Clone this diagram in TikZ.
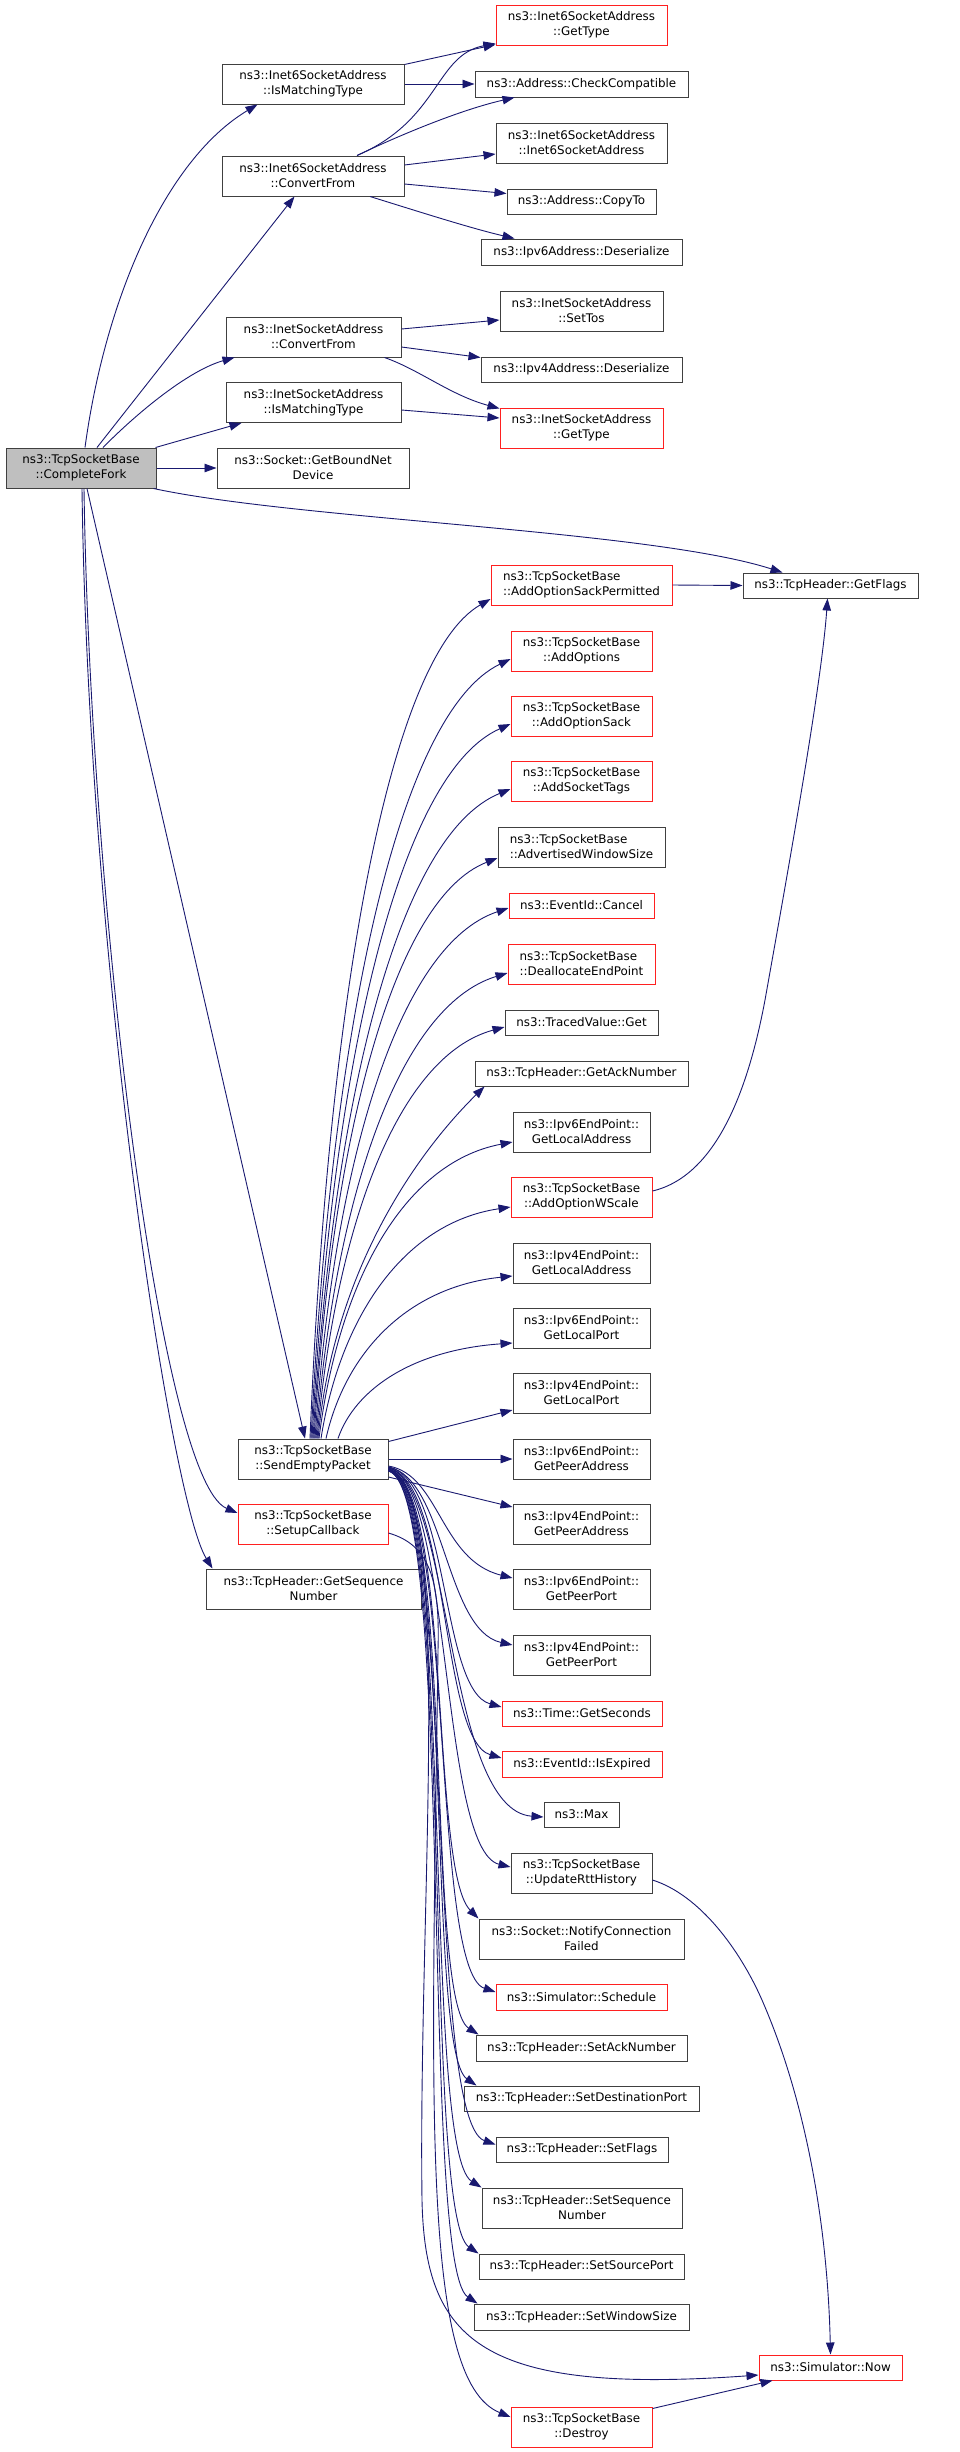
\documentclass[tikz,border=0pt]{standalone}
\usepackage{fontspec}
\setmainfont{DejaVu Sans}
\usetikzlibrary{arrows.meta}
\definecolor{edgec}{HTML}{191970}
\definecolor{bordc}{HTML}{404040}
\definecolor{rootfill}{HTML}{BFBFBF}
\definecolor{redb}{HTML}{FF2020}
\begin{document}
\begin{tikzpicture}[x=1pt,y=-1pt,
  fn/.style={draw=bordc, line width=1pt, fill=white, inner sep=0pt, align=center,
             font=\fontsize{11.9}{15}\selectfont},
  rn/.style={fn, draw=redb},
  rootn/.style={fn, fill=rootfill},
  call/.style={draw=edgec, line width=0.9pt, -{Triangle[length=12pt,width=8.5pt]}}]
\fill[white] (0,0) rectangle (960,2452);
\useasboundingbox (0,0) rectangle (960,2452);
% ---- nodes ----
\node[rootn, minimum width=150, minimum height=40] (cf) at (81,468) {ns3::TcpSocketBase\\::CompleteFork};
\node[fn, minimum width=182, minimum height=40] (i6mt) at (313,84) {ns3::Inet6SocketAddress\\::IsMatchingType};
\node[fn, minimum width=182, minimum height=40] (i6cf) at (313,176) {ns3::Inet6SocketAddress\\::ConvertFrom};
\node[fn, minimum width=175, minimum height=40] (i4cf) at (313.5,337) {ns3::InetSocketAddress\\::ConvertFrom};
\node[fn, minimum width=175, minimum height=40] (i4mt) at (313.5,402.5) {ns3::InetSocketAddress\\::IsMatchingType};
\node[fn, minimum width=192, minimum height=40] (gbnd) at (313,468) {ns3::Socket::GetBoundNet\\Device};
\node[fn, minimum width=150, minimum height=40] (sep) at (313,1459) {ns3::TcpSocketBase\\::SendEmptyPacket};
\node[rn, minimum width=150, minimum height=40] (scb) at (313,1524) {ns3::TcpSocketBase\\::SetupCallback};
\node[fn, minimum width=215, minimum height=40] (gsn) at (313.5,1589) {ns3::TcpHeader::GetSequence\\Number};

\node[rn, minimum width=171, minimum height=40] (i6gt) at (581.5,25) {ns3::Inet6SocketAddress\\::GetType};
\node[fn, minimum width=213, minimum height=26] (cc) at (581.5,84) {ns3::Address::CheckCompatible};
\node[fn, minimum width=171, minimum height=40] (i6ctor) at (581.5,143) {ns3::Inet6SocketAddress\\::Inet6SocketAddress};
\node[fn, minimum width=149, minimum height=25] (cpt) at (581.5,201.5) {ns3::Address::CopyTo};
\node[fn, minimum width=201, minimum height=26] (i6des) at (581.5,252) {ns3::Ipv6Address::Deserialize};
\node[fn, minimum width=163, minimum height=40] (tos) at (581.5,311) {ns3::InetSocketAddress\\::SetTos};
\node[fn, minimum width=201, minimum height=25] (i4des) at (581.5,369.5) {ns3::Ipv4Address::Deserialize};
\node[rn, minimum width=163, minimum height=40] (i4gt) at (581.5,428) {ns3::InetSocketAddress\\::GetType};

\node[rn, minimum width=181, minimum height=40, align=left] (asp) at (581.5,585) {ns3::TcpSocketBase\\::AddOptionSackPermitted};
\node[rn, minimum width=141, minimum height=40] (aop) at (581.5,651) {ns3::TcpSocketBase\\::AddOptions};
\node[rn, minimum width=141, minimum height=40] (aos) at (581.5,716) {ns3::TcpSocketBase\\::AddOptionSack};
\node[rn, minimum width=141, minimum height=40] (ast) at (581.5,781) {ns3::TcpSocketBase\\::AddSocketTags};
\node[fn, minimum width=167, minimum height=40, align=left] (aws) at (581.5,847) {ns3::TcpSocketBase\\::AdvertisedWindowSize};
\node[rn, minimum width=145, minimum height=25] (cancel) at (581.5,905.5) {ns3::EventId::Cancel};
\node[rn, minimum width=147, minimum height=40, align=left] (dep) at (581.5,964) {ns3::TcpSocketBase\\::DeallocateEndPoint};
\node[fn, minimum width=153, minimum height=25] (tvg) at (581.5,1022.5) {ns3::TracedValue::Get};
\node[fn, minimum width=213, minimum height=25] (gan) at (581.5,1073.5) {ns3::TcpHeader::GetAckNumber};
\node[fn, minimum width=137, minimum height=40] (v6la) at (581.5,1132) {ns3::Ipv6EndPoint::\\GetLocalAddress};
\node[rn, minimum width=141, minimum height=40] (aows) at (581.5,1197) {ns3::TcpSocketBase\\::AddOptionWScale};
\node[fn, minimum width=137, minimum height=40] (v4la) at (581.5,1263) {ns3::Ipv4EndPoint::\\GetLocalAddress};
\node[fn, minimum width=137, minimum height=40] (v6lp) at (581.5,1328) {ns3::Ipv6EndPoint::\\GetLocalPort};
\node[fn, minimum width=137, minimum height=40] (v4lp) at (581.5,1393) {ns3::Ipv4EndPoint::\\GetLocalPort};
\node[fn, minimum width=137, minimum height=40] (v6pa) at (581.5,1459) {ns3::Ipv6EndPoint::\\GetPeerAddress};
\node[fn, minimum width=137, minimum height=40] (v4pa) at (581.5,1524) {ns3::Ipv4EndPoint::\\GetPeerAddress};
\node[fn, minimum width=137, minimum height=40] (v6pp) at (581.5,1589) {ns3::Ipv6EndPoint::\\GetPeerPort};
\node[fn, minimum width=137, minimum height=40] (v4pp) at (581.5,1655) {ns3::Ipv4EndPoint::\\GetPeerPort};
\node[rn, minimum width=160, minimum height=25] (gsec) at (582,1713.5) {ns3::Time::GetSeconds};
\node[rn, minimum width=160, minimum height=26] (isexp) at (582,1764) {ns3::EventId::IsExpired};
\node[fn, minimum width=75, minimum height=25] (max) at (581.5,1814.5) {ns3::Max};
\node[fn, minimum width=141, minimum height=40] (urh) at (581.5,1873) {ns3::TcpSocketBase\\::UpdateRttHistory};
\node[fn, minimum width=205, minimum height=40] (ncf) at (581.5,1939) {ns3::Socket::NotifyConnection\\Failed};
\node[rn, minimum width=171, minimum height=26] (sch) at (581.5,1997) {ns3::Simulator::Schedule};
\node[fn, minimum width=211, minimum height=26] (sack) at (581.5,2048) {ns3::TcpHeader::SetAckNumber};
\node[fn, minimum width=235, minimum height=25] (sdp) at (581.5,2098.5) {ns3::TcpHeader::SetDestinationPort};
\node[fn, minimum width=172, minimum height=25] (sfl) at (582,2149.5) {ns3::TcpHeader::SetFlags};
\node[fn, minimum width=200, minimum height=40] (ssn) at (582,2208) {ns3::TcpHeader::SetSequence\\Number};
\node[fn, minimum width=205, minimum height=25] (ssp) at (581.5,2266.5) {ns3::TcpHeader::SetSourcePort};
\node[fn, minimum width=215, minimum height=26] (sws) at (581.5,2317) {ns3::TcpHeader::SetWindowSize};
\node[rn, minimum width=141, minimum height=40] (dst) at (581.5,2427) {ns3::TcpSocketBase\\::Destroy};

\node[fn, minimum width=175, minimum height=25] (gfl) at (830.5,585.5) {ns3::TcpHeader::GetFlags};
\node[rn, minimum width=143, minimum height=25] (now) at (830.5,2367.5) {ns3::Simulator::Now};

% ---- edges from CompleteFork ----
\draw[call] ([xshift=4pt]cf.north) .. controls (105,300) and (165,160) .. ([xshift=36pt]i6mt.south west);
\draw[call] ([xshift=16pt]cf.north) -- ([xshift=73pt]i6cf.south west);
\draw[call] ([xshift=22pt]cf.north) .. controls (140,410) and (190,370) .. ([xshift=9pt]i4cf.south west);
\draw[call] ([xshift=-1pt]cf.north east) -- ([xshift=16pt]i4mt.south west);
\draw[call] (cf.east) -- (gbnd.west);
\draw[call] ([xshift=-3pt]cf.south east) .. controls (300,520) and (650,530) .. ([xshift=40pt]gfl.north west);
\draw[call] ([xshift=6pt]cf.south) -- ([xshift=-8pt]sep.north);
\draw[call] ([xshift=3pt]cf.south) .. controls (90,900) and (160,1480) .. ([yshift=11pt]scb.west);
\draw[call] ([xshift=1pt]cf.south) .. controls (88,950) and (170,1500) .. ([xshift=7pt]gsn.north west);

% ---- Inet6SocketAddress ----
\draw[call] ([yshift=-1pt]i6mt.north east) -- ([yshift=1pt]i6gt.south west);
\draw[call] (i6mt.east) -- (cc.west);
\draw[call] ([xshift=44pt]i6cf.north) .. controls (440,120) and (435,55) .. ([yshift=2pt]i6gt.south west);
\draw[call] ([xshift=44pt]i6cf.north) .. controls (400,135) and (460,110) .. ([xshift=40pt]cc.south west);
\draw[call] ([yshift=11pt]i6cf.east) -- ([yshift=-11pt]i6ctor.west);
\draw[call] ([yshift=-8pt]i6cf.east) -- ([yshift=8pt]cpt.west);
\draw[call] ([xshift=57pt]i6cf.south) .. controls (420,212) and (470,228) .. ([xshift=34pt]i6des.north west);

% ---- InetSocketAddress ----
\draw[call] ([yshift=8pt]i4cf.east) -- ([yshift=-9pt]tos.west);
\draw[call] ([yshift=-10pt]i4cf.east) -- ([yshift=12pt]i4des.west);
\draw[call] ([xshift=71pt]i4cf.south) .. controls (420,370) and (450,395) .. ([yshift=-1pt]i4gt.north west);
\draw[call] ([yshift=-7.5pt]i4mt.east) -- ([yshift=10pt]i4gt.west);

% ---- to GetFlags / Now ----
\draw[call] (asp.east) -- (gfl.west);
\draw[call] ([yshift=6pt]aows.east) .. controls (720,1175) and (750,1080) .. (765,1000)
   .. controls (790,860) and (822,680) .. ([xshift=-3pt]gfl.south);
\draw[call] ([yshift=-7pt]urh.east) .. controls (700,1895) and (740,1950) .. (762,2000)
   .. controls (810,2110) and (828,2240) .. (now.north);
\draw[call] ([yshift=-2pt]dst.north east) -- ([xshift=14pt]now.south west);

% ---- SendEmptyPacket upward fan ----
\draw[call] ([xshift=-3pt]sep.north) .. controls (328,1002) and (388,658) .. ([yshift=-14pt]asp.west);
\draw[call] ([xshift=-2pt]sep.north) .. controls (331,1033) and (397,714) .. ([yshift=-8pt]aop.west);
\draw[call] ([xshift=-1pt]sep.north) .. controls (332,1067) and (398,774) .. ([yshift=-8pt]aos.west);
\draw[call] (sep.north) .. controls (333,1101) and (398,835) .. ([yshift=-8pt]ast.west);
\draw[call] ([xshift=1pt]sep.north) .. controls (332,1137) and (393,899) .. ([yshift=-11pt]aws.west);
\draw[call] ([xshift=2pt]sep.north) .. controls (334,1163) and (398,945) .. ([yshift=-2.5pt]cancel.west);
\draw[call] ([xshift=3pt]sep.north) .. controls (335,1197) and (399,1006) .. ([yshift=-9pt]dep.west);
\draw[call] ([xshift=4pt]sep.north) .. controls (336,1225) and (398,1056) .. ([yshift=-4.5pt]tvg.west);
\draw[call] ([xshift=5pt]sep.north) .. controls (335,1256) and (430,1140) .. ([xshift=10pt]gan.south west);
\draw[call] ([xshift=6pt]sep.north) .. controls (338,1285) and (402,1163) .. ([yshift=-10pt]v6la.west);
\draw[call] ([xshift=8pt]sep.north) .. controls (340,1318) and (403,1223) .. ([yshift=-10pt]aows.west);
\draw[call] ([xshift=13pt]sep.north) .. controls (345,1354) and (406,1287) .. ([yshift=-13pt]v4la.west);
\draw[call] ([xshift=25pt]sep.north) .. controls (355,1389) and (413,1350) .. ([yshift=-15pt]v6lp.west);
\draw[call] ([yshift=-3pt]sep.north east) -- ([yshift=-17pt]v4lp.west);
\draw[call] (sep.east) -- (v6pa.west);
\draw[call] ([yshift=-18pt]sep.east) -- ([yshift=17pt]v4pa.west);

% ---- SendEmptyPacket downward bundle ----
\draw[call] ([yshift=-7pt]sep.east) .. controls (440,1475) and (440,1560) .. ([yshift=11pt]v6pp.west);
\draw[call] ([yshift=-8pt]sep.east) .. controls (445,1478) and (445,1630) .. ([yshift=10pt]v4pp.west);
\draw[call] ([yshift=-8pt]sep.east) .. controls (450,1480) and (440,1690) .. ([yshift=6.5pt]gsec.west);
\draw[call] ([yshift=-9pt]sep.east) .. controls (450,1480) and (440,1740) .. ([yshift=6pt]isexp.west);
\draw[call] ([yshift=-9pt]sep.east) .. controls (452,1482) and (445,1810) .. ([yshift=-2.5pt]max.west);
\draw[call] ([yshift=-9pt]sep.east) .. controls (452,1482) and (440,1850) .. ([yshift=6pt]urh.west);
\draw[call] ([yshift=-10pt]sep.east) .. controls (452,1484) and (430,1870) .. (ncf.north west);
\draw[call] ([yshift=-10pt]sep.east) .. controls (455,1484) and (430,1970) .. ([yshift=5pt]sch.west);
\draw[call] ([yshift=-10pt]sep.east) .. controls (455,1486) and (425,2000) .. ([xshift=3pt]sack.north west);
\draw[call] ([yshift=-11pt]sep.east) .. controls (455,1486) and (425,2050) .. ([xshift=13pt]sdp.north west);
\draw[call] ([yshift=-11pt]sep.east) .. controls (455,1486) and (425,2120) .. ([yshift=5pt]sfl.west);
\draw[call] ([yshift=-11pt]sep.east) .. controls (455,1488) and (422,2150) .. (ssn.north west);
\draw[call] ([yshift=-12pt]sep.east) .. controls (455,1488) and (422,2215) .. (ssp.north west);
\draw[call] ([yshift=-12pt]sep.east) .. controls (455,1488) and (420,2265) .. ([xshift=4pt]sws.north west);
\draw[call] ([yshift=-12pt]sep.east) .. controls (455,1485) and (418,1900) .. (422,2200)
   .. controls (425,2340) and (480,2395) .. ([yshift=-7.5pt]now.west);

% ---- SetupCallback ----
\draw[call] ([yshift=-9pt]scb.east) .. controls (430,1545) and (440,1580) .. (438,1650)
   .. controls (432,2100) and (420,2380) .. ([yshift=10pt]dst.west);
\end{tikzpicture}
\end{document}
